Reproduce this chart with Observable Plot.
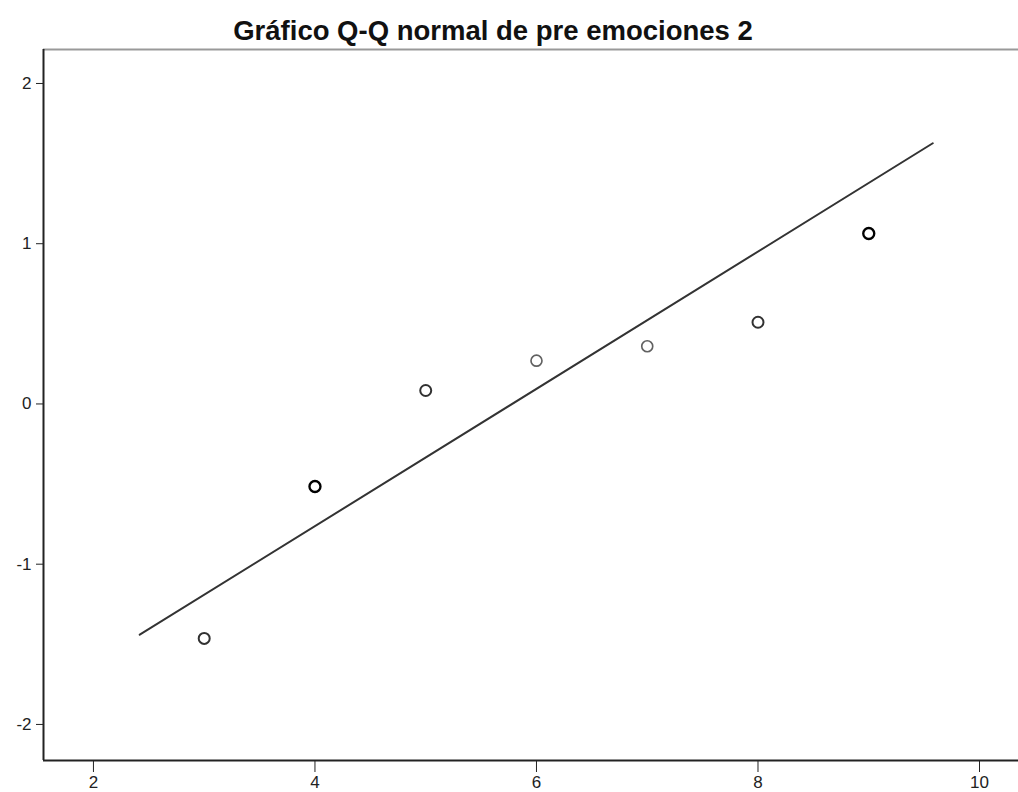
<!DOCTYPE html>
<html>
<head>
<meta charset="utf-8">
<script src="https://cdn.jsdelivr.net/npm/d3@7"></script>
<script src="https://cdn.jsdelivr.net/npm/@observablehq/plot@0.6"></script>
<style>
  body { margin: 0; background: #fff; }
  #title { height: 40px; width: 986px; overflow: visible; text-align: center; font-family: "Liberation Sans", Arial, sans-serif; font-weight: bold; font-size: 27.5px; line-height: 61px; color: #111; white-space: nowrap; }
  svg text { font-family: "Liberation Sans", Arial, sans-serif; font-size: 17px; fill: #222; }
</style>
</head>
<body>
<div id="title">Gráfico Q-Q normal de pre emociones 2</div>
<div id="chart"></div>
<script>
// Observed values and expected normal quantiles
const observed = [3, 4, 5, 6, 7, 8, 9];
const expectedNormal = [-1.463, -0.515, 0.084, 0.27, 0.36, 0.51, 1.064];
// approximate overlap (ties) per point, affecting ink darkness
const ties = [2, 3, 2, 1, 1, 2, 3];
// reference line endpoints
const lineX = [2.418, 9.578];
const lineY = [-1.44, 1.627];
// axes
const xTicks = [2, 4, 6, 8, 10];
const yTicks = [-2, -1, 0, 1, 2];
const xDomain = [1.549, 10.352];
const yDomain = [-2.225, 2.212];

const points = observed.map((x, i) => ({x, y: expectedNormal[i], n: ties[i]}));
const line = lineX.map((x, i) => ({x, y: lineY[i]}));

const chart = Plot.plot({
  width: 1018,
  height: 752,
  marginTop: 9,
  marginBottom: 32,
  marginLeft: 43,
  marginRight: 0,
  style: {fontSize: "17px", color: "#222", background: "#fff"},
  x: {domain: xDomain, ticks: xTicks, tickSize: 12, tickPadding: 3, label: null, tickFormat: d3.format("d")},
  y: {domain: yDomain, ticks: yTicks, tickSize: 7, tickPadding: 5, label: null, tickFormat: d => d < 0 ? "-" + Math.abs(d) : String(d)},
  marks: [
    Plot.ruleY([yDomain[1]], {stroke: "#999", strokeWidth: 2}),
    Plot.ruleX([xDomain[0]], {stroke: "#222", strokeWidth: 2}),
    Plot.ruleY([yDomain[0]], {stroke: "#222", strokeWidth: 2}),
    Plot.line(line, {x: "x", y: "y", stroke: "#333", strokeWidth: 2}),
    Plot.dot(points, {x: "x", y: "y", r: 5.5, stroke: "#000", strokeWidth: d => 1.3 + 0.35 * d.n, strokeOpacity: d => 0.45 + 0.2 * d.n, fill: "none"})
  ]
});
document.getElementById("chart").appendChild(chart);
</script>
</body>
</html>
